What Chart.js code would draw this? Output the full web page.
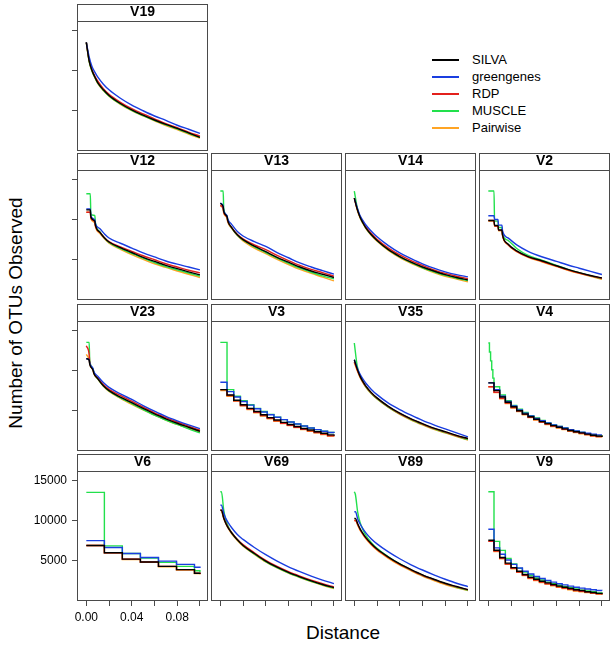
<!DOCTYPE html>
<html><head><meta charset="utf-8">
<script src="https://cdn.jsdelivr.net/npm/chart.js@4.4.1/dist/chart.umd.min.js"></script>
<style>
html,body{margin:0;padding:0;background:#fff;}
body{width:613px;height:655px;position:relative;overflow:hidden;font-family:"Liberation Sans",Arial,Helvetica,sans-serif;color:#000;}
canvas{position:absolute;}
.lg-line{position:absolute;width:27px;height:2px;}
.lg-text{position:absolute;font-size:13px;line-height:16px;white-space:nowrap;}
#ytitle{position:absolute;left:-134px;top:302px;width:300px;text-align:center;font-size:19px;line-height:22px;transform:rotate(-90deg);white-space:nowrap;}
#xtitle{position:absolute;left:243px;top:622px;width:200px;text-align:center;font-size:19px;line-height:22px;}
</style></head><body>
<div id="ytitle">Number of OTUs Observed</div>
<div id="xtitle">Distance</div>
<script>
// ---------- series / ticks ----------
const seriesNames = ['SILVA', 'greengenes', 'RDP', 'MUSCLE', 'Pairwise'];
const seriesColors = ['#000000', '#1a3ee0', '#e3201c', '#22e04c', '#ffa424'];
const yTickValues = [5000, 10000, 15000];
const xTickValues = [0, 0.02, 0.04, 0.06, 0.08, 0.10];
const xTickLabels = ['0.00', '', '0.04', '', '0.08', ''];

// ---------- distance grids ----------
const xSmooth = [0, 0.0025, 0.005, 0.0075, 0.01, 0.015, 0.02, 0.03, 0.04, 0.05, 0.06, 0.07, 0.08, 0.09, 0.1];
const x12 = [0, 0.0035, 0.004, 0.0075, 0.008, 0.012, 0.016, 0.02, 0.03, 0.04, 0.05, 0.06, 0.07, 0.08, 0.09, 0.1];
const x13 = [0, 0.0025, 0.003, 0.006, 0.0065, 0.01, 0.015, 0.02, 0.03, 0.04, 0.05, 0.06, 0.07, 0.08, 0.09, 0.1];
const x2 = [0, 0.005, 0.0055, 0.0085, 0.009, 0.012, 0.0125, 0.0173, 0.025, 0.035, 0.047, 0.06, 0.07, 0.08, 0.09, 0.1];
const x3 = [0, 0.0059, 0.0118, 0.0177, 0.0236, 0.0295, 0.0354, 0.0413, 0.0472, 0.0531, 0.059, 0.0649, 0.0708, 0.0767, 0.0826, 0.0885, 0.0944, 0.1];
const x4 = [0, 0.001, 0.002, 0.003, 0.004, 0.005, 0.01, 0.015, 0.02, 0.025, 0.03, 0.035, 0.04, 0.045, 0.05, 0.055, 0.06, 0.065, 0.07, 0.075, 0.08, 0.085, 0.09, 0.095, 0.1];
const x5 = [0, 0.005, 0.01, 0.015, 0.02, 0.025, 0.03, 0.035, 0.04, 0.045, 0.05, 0.055, 0.06, 0.065, 0.07, 0.075, 0.08, 0.085, 0.09, 0.095, 0.1];
const x6 = [0, 0.0159, 0.0317, 0.0476, 0.0635, 0.0794, 0.0952, 0.1];
const x69 = [0, 0.001, 0.003, 0.005, 0.0075, 0.01, 0.015, 0.02, 0.03, 0.04, 0.05, 0.06, 0.07, 0.08, 0.09, 0.1];

// ---------- OTU counts per region ----------
const V19 = {
  SILVA:      [13500, 11200, 10000, 9200, 8500, 7600, 6900, 5900, 5100, 4450, 3850, 3300, 2800, 2250, 1700],
  greengenes: [13500, 11700, 10500, 9800, 9200, 8300, 7600, 6550, 5700, 5000, 4350, 3800, 3200, 2700, 2200],
  RDP:        [13500, 11300, 10100, 9300, 8700, 7750, 7050, 6050, 5250, 4600, 4000, 3400, 2900, 2350, 1850],
  MUSCLE:     [13500, 11150, 9950, 9150, 8450, 7550, 6850, 5850, 5050, 4400, 3800, 3250, 2750, 2200, 1700],
  Pairwise:   [13500, 11100, 9900, 9100, 8400, 7500, 6800, 5800, 5000, 4350, 3750, 3150, 2650, 2100, 1600]
};
const V12 = {
  SILVA:      [11200, 11200, 10300, 9800, 9300, 8400, 7700, 7200, 6500, 5900, 5300, 4800, 4300, 3900, 3500, 3125],
  greengenes: [11300, 11300, 10450, 9950, 9500, 8850, 8200, 7700, 7050, 6450, 5850, 5350, 4850, 4450, 4100, 3750],
  RDP:        [10900, 10900, 10200, 9700, 9200, 8400, 7750, 7250, 6600, 6050, 5500, 5000, 4500, 4100, 3700, 3375],
  MUSCLE:     [13200, 13200, 10600, 10500, 9600, 8450, 7700, 7150, 6400, 5800, 5200, 4650, 4150, 3750, 3350, 2960],
  Pairwise:   [10900, 10900, 10100, 9550, 9100, 8250, 7600, 7050, 6300, 5650, 5050, 4500, 4050, 3600, 3200, 2790]
};
const V13 = {
  SILVA:      [12000, 11600, 11000, 10300, 9900, 9000, 8100, 7500, 6700, 6000, 5300, 4700, 4100, 3600, 3200, 2790],
  greengenes: [12050, 11700, 11100, 10450, 10100, 9400, 8500, 7950, 7250, 6650, 5900, 5250, 4600, 4100, 3650, 3210],
  RDP:        [11750, 11400, 10900, 10200, 9800, 9000, 8150, 7600, 6850, 6250, 5550, 4900, 4300, 3800, 3400, 2960],
  MUSCLE:     [13540, 13540, 11400, 10400, 9900, 8950, 8050, 7450, 6600, 5900, 5200, 4550, 3950, 3450, 3000, 2625],
  Pairwise:   [11750, 11300, 10800, 10100, 9700, 8900, 8000, 7350, 6450, 5750, 5050, 4400, 3800, 3300, 2850, 2375]
};
const V14 = {
  SILVA:      [12660, 11300, 10300, 9600, 9000, 8100, 7400, 6250, 5400, 4700, 4100, 3600, 3150, 2800, 2500],
  greengenes: [12660, 11500, 10500, 9900, 9350, 8550, 7850, 6750, 5850, 5150, 4500, 3950, 3500, 3150, 2875],
  RDP:        [12660, 11350, 10350, 9700, 9100, 8250, 7550, 6450, 5600, 4900, 4300, 3750, 3300, 2950, 2660],
  MUSCLE:     [13540, 11500, 10300, 9600, 9000, 8100, 7400, 6250, 5350, 4650, 4000, 3500, 3050, 2700, 2400],
  Pairwise:   [12660, 11200, 10200, 9500, 8900, 8000, 7300, 6150, 5250, 4550, 3950, 3400, 2950, 2600, 2250]
};
const V2 = {
  SILVA:      [9875, 9875, 9250, 9250, 8700, 8700, 8100, 6960, 6100, 5400, 4875, 4250, 3800, 3400, 3050, 2750],
  greengenes: [10460, 10460, 10000, 10000, 9300, 9300, 8600, 7710, 6850, 6050, 5375, 4800, 4350, 3950, 3550, 3165],
  RDP:        [9875, 9875, 9200, 9200, 8650, 8650, 8050, 6900, 6050, 5350, 4800, 4200, 3750, 3350, 3000, 2700],
  MUSCLE:     [13540, 13540, 9800, 9800, 9000, 9000, 8200, 7400, 6400, 5550, 4950, 4300, 3800, 3400, 3000, 2650],
  Pairwise:   [9800, 9800, 9150, 9150, 8600, 8600, 8000, 6850, 6000, 5300, 4750, 4150, 3700, 3300, 2950, 2580]
};
const V23 = {
  SILVA:      [11460, 11300, 10800, 10000, 9700, 9000, 8100, 7500, 6700, 6000, 5300, 4600, 4000, 3450, 2950, 2450],
  greengenes: [11460, 11350, 10900, 10200, 9900, 9300, 8500, 7900, 7100, 6400, 5650, 4950, 4300, 3750, 3250, 2790],
  RDP:        [13080, 12000, 11000, 10100, 9750, 9100, 8250, 7650, 6900, 6200, 5450, 4750, 4150, 3600, 3100, 2580],
  MUSCLE:     [13500, 13500, 11300, 10200, 9800, 9000, 8100, 7450, 6600, 5900, 5150, 4450, 3850, 3300, 2750, 2250],
  Pairwise:   [12000, 11300, 10800, 10000, 9650, 8950, 8050, 7400, 6550, 5800, 5100, 4450, 3850, 3300, 2850, 2350]
};
const V3 = {
  SILVA:      [7625, 6950, 6300, 5750, 5300, 4900, 4500, 4150, 3850, 3550, 3300, 3050, 2800, 2600, 2400, 2200, 2000, 1900],
  greengenes: [8540, 7375, 6700, 6150, 5700, 5250, 4850, 4500, 4200, 3900, 3600, 3350, 3100, 2850, 2650, 2450, 2300, 2250],
  RDP:        [7625, 6900, 6250, 5650, 5200, 4800, 4400, 4050, 3750, 3450, 3200, 2950, 2700, 2500, 2300, 2100, 1900, 1830],
  MUSCLE:     [13500, 7625, 6800, 6250, 5750, 5300, 4900, 4550, 4200, 3900, 3600, 3350, 3100, 2850, 2650, 2450, 2300, 2250],
  Pairwise:   [7500, 6800, 6200, 5600, 5150, 4750, 4350, 4000, 3700, 3400, 3150, 2900, 2650, 2450, 2250, 2050, 1850, 1800]
};
const V35 = {
  SILVA:      [11340, 10200, 9300, 8650, 8100, 7250, 6600, 5550, 4700, 4000, 3400, 2850, 2400, 1950, 1550],
  greengenes: [11340, 10350, 9550, 8950, 8450, 7650, 7000, 5950, 5150, 4450, 3800, 3250, 2750, 2250, 1750],
  RDP:        [11100, 10100, 9250, 8600, 8050, 7200, 6550, 5500, 4650, 3950, 3350, 2800, 2350, 1900, 1500],
  MUSCLE:     [13420, 10600, 9300, 8600, 8000, 7150, 6500, 5450, 4600, 3900, 3300, 2750, 2300, 1850, 1410],
  Pairwise:   [11000, 10000, 9150, 8500, 7950, 7100, 6450, 5400, 4550, 3850, 3250, 2700, 2250, 1800, 1350]
};
const V4 = {
  SILVA:      [8460, 8460, 8460, 8460, 8460, 7500, 6700, 6050, 5500, 5000, 4600, 4250, 3950, 3650, 3400, 3150, 2950, 2750, 2550, 2400, 2250, 2100, 1950, 1850, 1750],
  greengenes: [8460, 8460, 8460, 8460, 8460, 7600, 6800, 6150, 5600, 5100, 4700, 4350, 4050, 3750, 3500, 3250, 3050, 2850, 2650, 2500, 2350, 2200, 2100, 2000, 2000],
  RDP:        [7990, 7990, 7990, 7990, 7990, 7300, 6550, 5950, 5400, 4950, 4550, 4200, 3900, 3600, 3350, 3100, 2900, 2700, 2500, 2350, 2200, 2050, 1900, 1800, 1750],
  MUSCLE:     [13420, 12300, 11200, 10100, 9050, 7990, 6960, 6250, 5650, 5200, 4800, 4400, 4100, 3800, 3500, 3250, 3050, 2850, 2650, 2450, 2300, 2150, 2000, 1900, 1800],
  Pairwise:   [7990, 7990, 7990, 7990, 7990, 7250, 6500, 5900, 5350, 4900, 4500, 4150, 3850, 3550, 3300, 3050, 2850, 2650, 2450, 2300, 2150, 2000, 1850, 1750, 1700]
};
const V6 = {
  SILVA:      [6900, 6000, 5200, 4850, 4300, 3900, 3450, 3350],
  greengenes: [7500, 6650, 5900, 5400, 4950, 4550, 4200, 4100],
  RDP:        [6900, 6000, 5200, 4850, 4300, 3900, 3450, 3350],
  MUSCLE:     [13500, 6850, 5900, 5350, 4800, 4300, 3750, 3600],
  Pairwise:   [6900, 6000, 5150, 4800, 4250, 3850, 3400, 3300]
};
const V69 = {
  SILVA:      [11290, 11290, 10300, 9600, 8950, 8450, 7600, 6900, 5900, 4950, 4200, 3550, 3000, 2500, 2050, 1660],
  greengenes: [11910, 11910, 10900, 10200, 9600, 9100, 8250, 7650, 6650, 5750, 4950, 4250, 3650, 3100, 2600, 2160],
  RDP:        [11290, 11290, 10350, 9650, 9000, 8500, 7650, 7000, 6000, 5050, 4300, 3650, 3100, 2600, 2150, 1750],
  MUSCLE:     [13575, 13575, 11300, 10000, 9100, 8500, 7600, 6900, 5850, 4900, 4150, 3500, 2950, 2450, 2000, 1600],
  Pairwise:   [11290, 11200, 10250, 9550, 8900, 8350, 7500, 6800, 5800, 4850, 4100, 3450, 2900, 2400, 1950, 1550]
};
const V89 = {
  SILVA:      [10250, 10250, 9600, 9000, 8400, 7900, 7100, 6450, 5450, 4600, 3900, 3250, 2700, 2200, 1800, 1410],
  greengenes: [11080, 11080, 10200, 9600, 9000, 8500, 7700, 7100, 6100, 5250, 4500, 3850, 3250, 2700, 2200, 1790],
  RDP:        [10000, 10000, 9500, 8900, 8350, 7850, 7050, 6400, 5400, 4550, 3850, 3200, 2650, 2150, 1750, 1400],
  MUSCLE:     [13575, 13200, 11000, 9800, 8900, 8200, 7250, 6550, 5500, 4600, 3850, 3200, 2650, 2150, 1700, 1350],
  Pairwise:   [10000, 10000, 9400, 8800, 8250, 7750, 6950, 6300, 5300, 4450, 3750, 3100, 2550, 2050, 1650, 1300]
};
const V9 = {
  SILVA:      [7540, 6300, 5400, 4700, 4150, 3700, 3300, 2950, 2700, 2450, 2250, 2050, 1850, 1700, 1550, 1400, 1300, 1150, 1050, 950, 850],
  greengenes: [8910, 6600, 5800, 5100, 4550, 4100, 3700, 3350, 3050, 2800, 2550, 2350, 2150, 2000, 1850, 1700, 1600, 1500, 1400, 1300, 1290],
  RDP:        [7410, 6200, 5300, 4600, 4050, 3600, 3200, 2850, 2600, 2350, 2150, 1950, 1750, 1600, 1450, 1300, 1200, 1100, 1000, 900, 800],
  MUSCLE:     [13575, 7410, 6290, 5300, 4600, 4050, 3600, 3200, 2850, 2600, 2350, 2150, 1950, 1800, 1650, 1500, 1350, 1250, 1150, 1000, 900],
  Pairwise:   [7410, 6150, 5250, 4550, 4000, 3550, 3150, 2800, 2550, 2300, 2100, 1900, 1700, 1550, 1400, 1250, 1150, 1050, 950, 850, 780]
};

// ---------- panel arrangement ----------
const panelGrid = [
  [['V19', V19, xSmooth, false]],
  [['V12', V12, x12, false], ['V13', V13, x13, false], ['V14', V14, xSmooth, false], ['V2', V2, x2, false]],
  [['V23', V23, x13, false], ['V3', V3, x3, true], ['V35', V35, xSmooth, false], ['V4', V4, x4, true]],
  [['V6', V6, x6, true], ['V69', V69, x69, false], ['V89', V89, x69, false], ['V9', V9, x5, true]]
];

// ---------- layout ----------
const FONT = '"Liberation Sans", Arial, Helvetica, sans-serif';
const colLeft = [77, 211, 345, 479];
const rowTop = [4, 153, 304, 454];
const PW = 131, PH = 130, STRIP = 17;
const X_MIN = -0.0082, X_MAX = 0.1071, Y_MIN = 0, Y_MAX = 16150;
const FRAME = '#4a4a4a';

const framePlugin = {
  id: 'frame',
  afterDraw(chart) {
    const ctx = chart.ctx, a = chart.chartArea;
    ctx.save();
    ctx.strokeStyle = FRAME;
    ctx.lineWidth = 1;
    ctx.strokeRect(a.left + 0.5, 0.5, a.right - a.left - 1, a.bottom - 1);
    ctx.beginPath();
    ctx.moveTo(a.left, a.top + 0.5);
    ctx.lineTo(a.right, a.top + 0.5);
    ctx.stroke();
    ctx.restore();
  }
};

function makePanel(def, row, col) {
  const [name, vals, xs, stepped] = def;
  const lm = col === 0 ? 77 : 0;
  const bm = row === 3 ? 30 : 0;
  const W = PW + lm, H = STRIP + PH + bm;
  const cv = document.createElement('canvas');
  cv.width = W; cv.height = H;
  cv.style.width = W + 'px'; cv.style.height = H + 'px';
  cv.style.left = (colLeft[col] - lm) + 'px';
  cv.style.top = rowTop[row] + 'px';
  document.body.appendChild(cv);
  const datasets = seriesNames.map((s, i) => ({
    label: s,
    data: xs.map((x, j) => ({ x: x, y: vals[s][j] })),
    borderColor: seriesColors[i],
    backgroundColor: seriesColors[i],
    borderWidth: 1.4,
    pointRadius: 0,
    fill: false,
    stepped: stepped ? true : false,
    cubicInterpolationMode: 'monotone'
  }));
  new Chart(cv, {
    type: 'line',
    data: { datasets },
    options: {
      responsive: false, animation: false, devicePixelRatio: 1,
      layout: { padding: 0 },
      plugins: {
        legend: { display: false },
        tooltip: { enabled: false },
        title: {
          display: true, text: name, fullSize: false, padding: 0, color: '#000',
          font: { family: FONT, size: 14, weight: 'bold', lineHeight: STRIP + 'px' }
        }
      },
      scales: {
        x: {
          type: 'linear', min: X_MIN, max: X_MAX, display: row === 3,
          afterBuildTicks: s => { s.ticks = xTickValues.map(v => ({ value: v })); },
          afterFit: s => { s.height = bm; },
          ticks: {
            autoSkip: false, maxRotation: 0, padding: 4, color: '#000',
            font: { family: FONT, size: 12 },
            callback: (v, i) => col === 0 ? xTickLabels[i] : ''
          },
          grid: { drawOnChartArea: false, drawTicks: true, tickLength: 5, color: FRAME },
          border: { display: false }
        },
        y: {
          type: 'linear', min: Y_MIN, max: Y_MAX, display: col === 0,
          afterBuildTicks: s => { s.ticks = yTickValues.map(v => ({ value: v })); },
          afterFit: s => { s.width = lm; },
          ticks: {
            display: row === 3, padding: 5, color: '#000',
            font: { family: FONT, size: 12 },
            callback: v => String(v)
          },
          grid: { drawOnChartArea: false, drawTicks: true, tickLength: 5, color: FRAME },
          border: { display: false }
        }
      }
    },
    plugins: [framePlugin]
  });
}

panelGrid.forEach((r, ri) => r.forEach((d, ci) => makePanel(d, ri, ci)));

// ---------- legend ----------
const legendY = [60, 77, 94, 111, 128];
seriesNames.forEach((s, i) => {
  const ln = document.createElement('div');
  ln.className = 'lg-line';
  ln.style.left = '432px'; ln.style.top = (legendY[i] - 1) + 'px';
  ln.style.background = seriesColors[i];
  document.body.appendChild(ln);
  const tx = document.createElement('div');
  tx.className = 'lg-text';
  tx.style.left = '472px'; tx.style.top = (legendY[i] - 8) + 'px';
  tx.textContent = s;
  document.body.appendChild(tx);
});
</script>
</body></html>
